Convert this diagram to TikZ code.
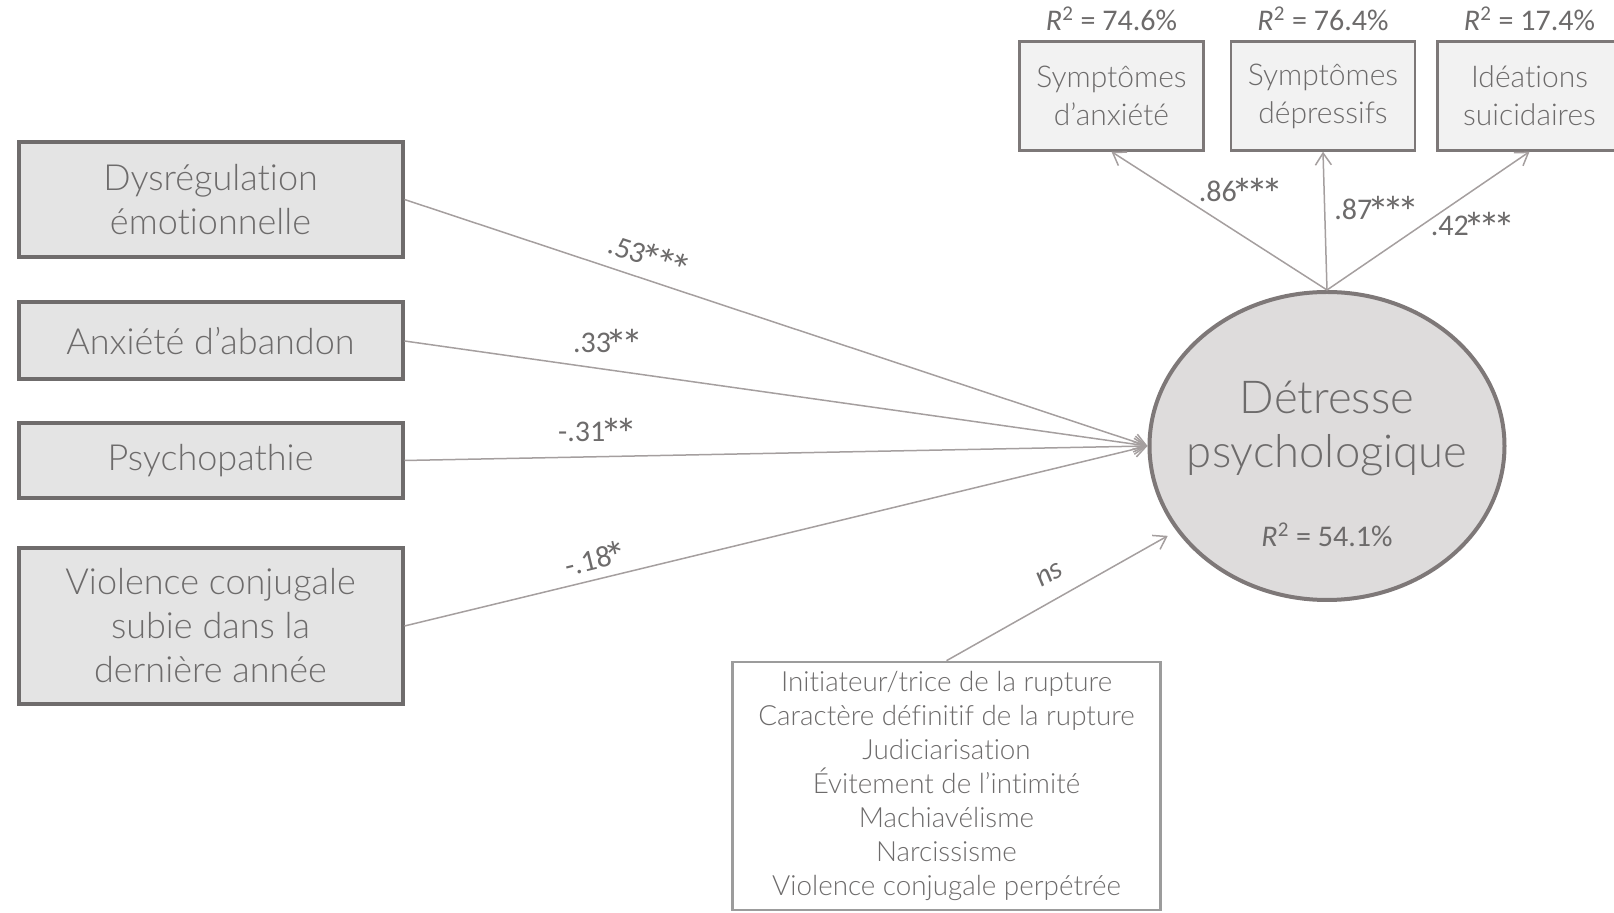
\documentclass[tikz,border=0pt]{standalone}
\usepackage{fontspec}
\IfFontExistsTF{Lato Light}
  {\setmainfont{Lato Light}[Ligatures=CommonOff]}
  {\setmainfont{Lato}[Ligatures=CommonOff]}
\newfontfamily\coeffont{Carlito}
\usetikzlibrary{arrows.meta,positioning,shapes.geometric}

\definecolor{txtgray}{HTML}{6D6B6B}
\definecolor{linegray}{HTML}{A59F9F}
\definecolor{boxedge}{HTML}{6F6C6C}
\definecolor{boxfill}{HTML}{E4E4E4}
\definecolor{topedge}{HTML}{7D7878}
\definecolor{topfill}{HTML}{F2F2F2}
\definecolor{elledge}{HTML}{7E7878}
\definecolor{ellfill}{HTML}{DEDCDC}
\definecolor{botedge}{HTML}{9C9C9C}

\newcommand{\rsq}[1]{\textit{R}\textsuperscript{2} = #1}
% asterisques de significativite
\newcommand{\sig}[1]{\kern-2.6pt\raisebox{-4pt}[0pt][0pt]{\fontsize{22}{22}\selectfont#1}}
\newcommand{\sk}{\kern-3.4pt}

\begin{document}
\begin{tikzpicture}[x=0.5pt,y=-0.5pt,
  every node/.style={text=txtgray, inner sep=0pt},
  predbox/.style={draw=boxedge, line width=2pt, fill=boxfill, minimum width=192pt,
    align=center, font=\fontsize{18}{22}\selectfont},
  outbox/.style={draw=topedge, line width=1.2pt, fill=topfill, minimum width=92pt,
    minimum height=54.5pt, align=center, font=\fontsize{15}{19}\selectfont},
  ctrlbox/.style={draw=botedge, line width=1.3pt, fill=white, minimum width=214pt,
    minimum height=124pt, align=center, font=\fontsize{13.9}{17}\selectfont},
  latent/.style={ellipse, draw=elledge, line width=2pt, fill=ellfill,
    minimum width=177.5pt, minimum height=154pt},
  coef/.style={font=\coeffont\fontsize{15}{17}\selectfont},
  link/.style={draw=linegray, line width=0.75pt, -{Straight Barb[length=6pt,width=8pt]}}
]
\useasboundingbox (0,0) rectangle (1614,913);

% predicteurs
\node[predbox, minimum height=57.5pt] (dys) at (210.5,199.5) {Dysrégulation\\émotionnelle};
\node[predbox, minimum height=38.5pt] (anx) at (210.5,341) {Anxiété d’abandon};
\node[predbox, minimum height=37.5pt] (psy) at (210.5,460.5) {Psychopathie};
\node[predbox, minimum height=78pt] (vio) at (210.5,626) {Violence conjugale\\subie dans la\\dernière année};

% variable latente
\node[latent] (det) at (1327,446) {};
\node[font=\fontsize{22.7}{27}\selectfont, align=center] (dettxt) at ([yshift=8.75pt]det.center) {Détresse\\psychologique};
\node[coef] (detr2) at ([yshift=-44.5pt]det.center) {\rsq{54.1\%}};

% indicateurs
\node[outbox] (sanx) at (1111.5,96) {Symptômes\\d’anxiété};
\node[outbox] (sdep) at (1323,96) {Symptômes\\dépressifs};
\node[outbox] (idea) at (1529.5,96) {Idéations\\suicidaires};
\node[coef, above=4.5pt of sanx] (r2anx) {\rsq{74.6\%}};
\node[coef, above=4.5pt of sdep] (r2dep) {\rsq{76.4\%}};
\node[coef, above=4.5pt of idea] (r2ide) {\rsq{17.4\%}};

% controles
\node[ctrlbox] (ctrl) at (946.5,786) {Initiateur/trice de la rupture\\Caractère définitif de la rupture\\Judiciarisation\\Évitement de l’intimité\\Machiavélisme\\Narcissisme\\Violence conjugale perpétrée};

% liens
\draw[link] (dys.east) -- node[coef, pos=.32, sloped, above=6pt] {.53\sig{*\sk*\sk*}} (det.west);
\draw[link] (anx.east) -- node[coef, pos=.274, above=8pt] {.33\sig{*\sk*}} (det.west);
\draw[link] (psy.east) -- node[coef, pos=.26, above=7pt] {-.31\sig{*\sk*}} (det.west);
\draw[link] (vio.east) -- node[coef, pos=.264, sloped, above=4.5pt] {-.18\sig{*}} (det.west);

\draw[link] (det.north) -- node[coef, pos=.714, right=12.5pt] {.86\sig{*\sk*\sk*}} (sanx.south);
\draw[link] (det.north) -- node[coef, pos=.58, right=4.5pt] {.87\sig{*\sk*\sk*}} (sdep.south);
\draw[link] (det.north) -- node[coef, pos=.46, right=5pt] {.42\sig{*\sk*\sk*}} (idea.south);

\draw[link, shorten >=5pt] (ctrl.north) -- node[coef, pos=.5, sloped, above=8pt, font=\coeffont\fontsize{15}{17}\selectfont\itshape] {ns} (det);
\end{tikzpicture}
\end{document}
